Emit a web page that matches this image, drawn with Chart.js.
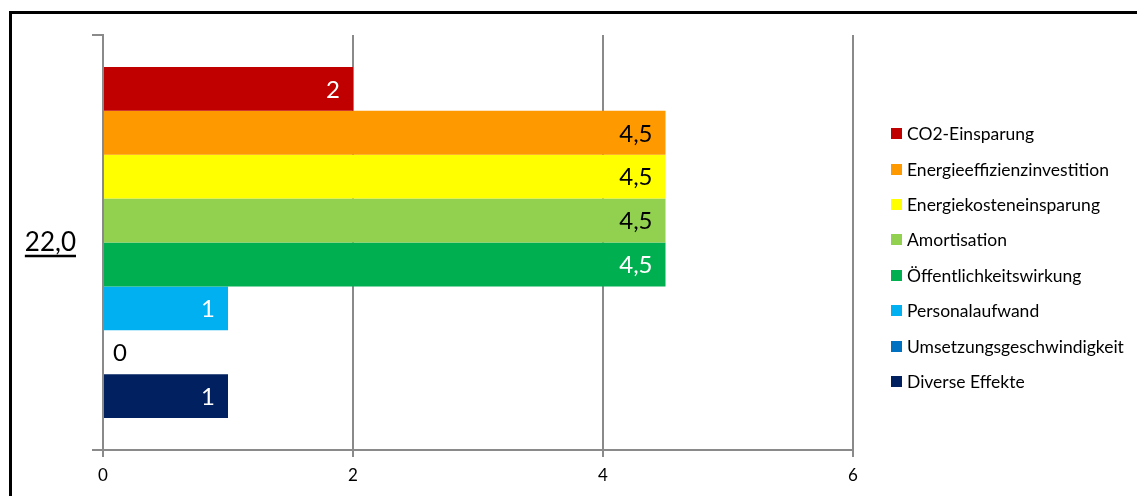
<!DOCTYPE html>
<html>
<head>
<meta charset="utf-8">
<script src="https://cdn.jsdelivr.net/npm/chart.js@4/dist/chart.umd.min.js"></script>
<style>
  body { margin: 0; background: #fff; }
  #wrap { position: relative; width: 1137px; height: 496px; overflow: hidden; }
  #frame { position: absolute; left: 9px; top: 11px; width: 1300px; height: 700px; border: 3px solid #000; pointer-events: none; }
  #legend { position: absolute; left: 891px; top: 116px; font-family: Lato, sans-serif; font-size: 17.5px; color: #000; }
  #legend .row { height: 35.4px; display: flex; align-items: center; white-space: nowrap; }
  #legend .box { width: 11px; height: 11px; margin-right: 5px; flex: none; }
</style>
</head>
<body>
<div id="wrap">
  <canvas id="chart"></canvas>
  <div id="legend"></div>
  <div id="frame"></div>
</div>
<script>
// Chart data
const categories = ['22,0'];
const seriesNames = [
    'CO2-Einsparung',
    'Energieeffizienzinvestition',
    'Energiekosteneinsparung',
    'Amortisation',
    'Öffentlichkeitswirkung',
    'Personalaufwand',
    'Umsetzungsgeschwindigkeit',
    'Diverse Effekte'
];
const seriesValues = [2, 4.5, 4.5, 4.5, 4.5, 1, 0, 1];
const xTicks = [0, 2, 4, 6];

// Styles
const barColors = ['#C00000', '#FF9900', '#FFFF00', '#92D050', '#00B050', '#00B0F0', '#0070C0', '#002060'];
const labelColors = ['#fff', '#000', '#000', '#000', '#fff', '#fff', '#fff', '#fff'];
const gridColor = '#8a8a8a';

Chart.defaults.font.family = 'Lato, sans-serif';
Chart.defaults.color = '#000';

const formatValue = v => String(v).replace('.', ',');

// value labels inside the bar ends + underline of the category label
const barLabels = {
    id: 'barLabels',
    afterDatasetsDraw(chart) {
        const ctx = chart.ctx;
        ctx.save();
        ctx.font = '24px Lato, sans-serif';
        ctx.textBaseline = 'middle';
        chart.data.datasets.forEach((ds, i) => {
            const meta = chart.getDatasetMeta(i);
            meta.data.forEach((bar, j) => {
                const v = ds.data[j];
                const txt = formatValue(v);
                if (v > 0) {
                    ctx.textAlign = 'right';
                    ctx.fillStyle = labelColors[i];
                    ctx.fillText(txt, bar.x - 13, bar.y + 1);
                } else {
                    ctx.textAlign = 'left';
                    ctx.fillStyle = '#000';
                    ctx.fillText(txt, bar.x + 10, bar.y + 1);
                }
            });
        });
        ctx.restore();
    },
    afterDraw(chart) {
        const ctx = chart.ctx;
        const yScale = chart.scales.y;
        ctx.save();
        ctx.font = '26px Lato, sans-serif';
        const w = ctx.measureText(categories[0]).width;
        const right = yScale.right - 11 - 16;
        const y = Math.round(yScale.getPixelForTick(0)) + 13;
        ctx.strokeStyle = '#000';
        ctx.lineWidth = 2.5;
        ctx.beginPath();
        ctx.moveTo(right - w, y);
        ctx.lineTo(right, y);
        ctx.stroke();
        ctx.restore();
    }
};

const chart = new Chart(document.getElementById('chart'), {
    type: 'bar',
    data: {
        labels: categories,
        datasets: seriesNames.map((name, i) => ({
            label: name,
            data: [seriesValues[i]],
            backgroundColor: barColors[i],
            borderWidth: 0,
            barPercentage: 1,
            categoryPercentage: 0.846
        }))
    },
    options: {
        indexAxis: 'y',
        responsive: true,
        maintainAspectRatio: false,
        animation: false,
        layout: {
            padding: { left: 0, top: 35, right: 284, bottom: 0 }
        },
        plugins: {
            legend: { display: false },
            tooltip: { enabled: false }
        },
        scales: {
            x: {
                min: xTicks[0],
                max: xTicks[xTicks.length - 1],
                afterBuildTicks: scale => {
                    scale.ticks = xTicks.map(v => ({ value: v }));
                },
                afterFit: scale => { scale.height = 46; },
                ticks: {
                    font: { size: 17 },
                    padding: 8,
                    color: '#000'
                },
                grid: {
                    color: gridColor,
                    lineWidth: 2,
                    tickLength: 7
                },
                border: { color: gridColor, width: 2 }
            },
            y: {
                afterFit: scale => { scale.width = 103; },
                ticks: {
                    font: { size: 26 },
                    padding: 16,
                    color: '#000'
                },
                grid: {
                    offset: true,
                    drawOnChartArea: false,
                    color: gridColor,
                    lineWidth: 2,
                    tickLength: 11
                },
                border: { color: gridColor, width: 2 }
            }
        }
    },
    plugins: [barLabels]
});

// legend built from the dataset names and colours
const legendEl = document.getElementById('legend');
seriesNames.forEach((name, i) => {
    const row = document.createElement('div');
    row.className = 'row';
    const box = document.createElement('span');
    box.className = 'box';
    box.style.background = barColors[i];
    const text = document.createElement('span');
    text.textContent = name;
    row.appendChild(box);
    row.appendChild(text);
    legendEl.appendChild(row);
});
</script>
</body>
</html>
